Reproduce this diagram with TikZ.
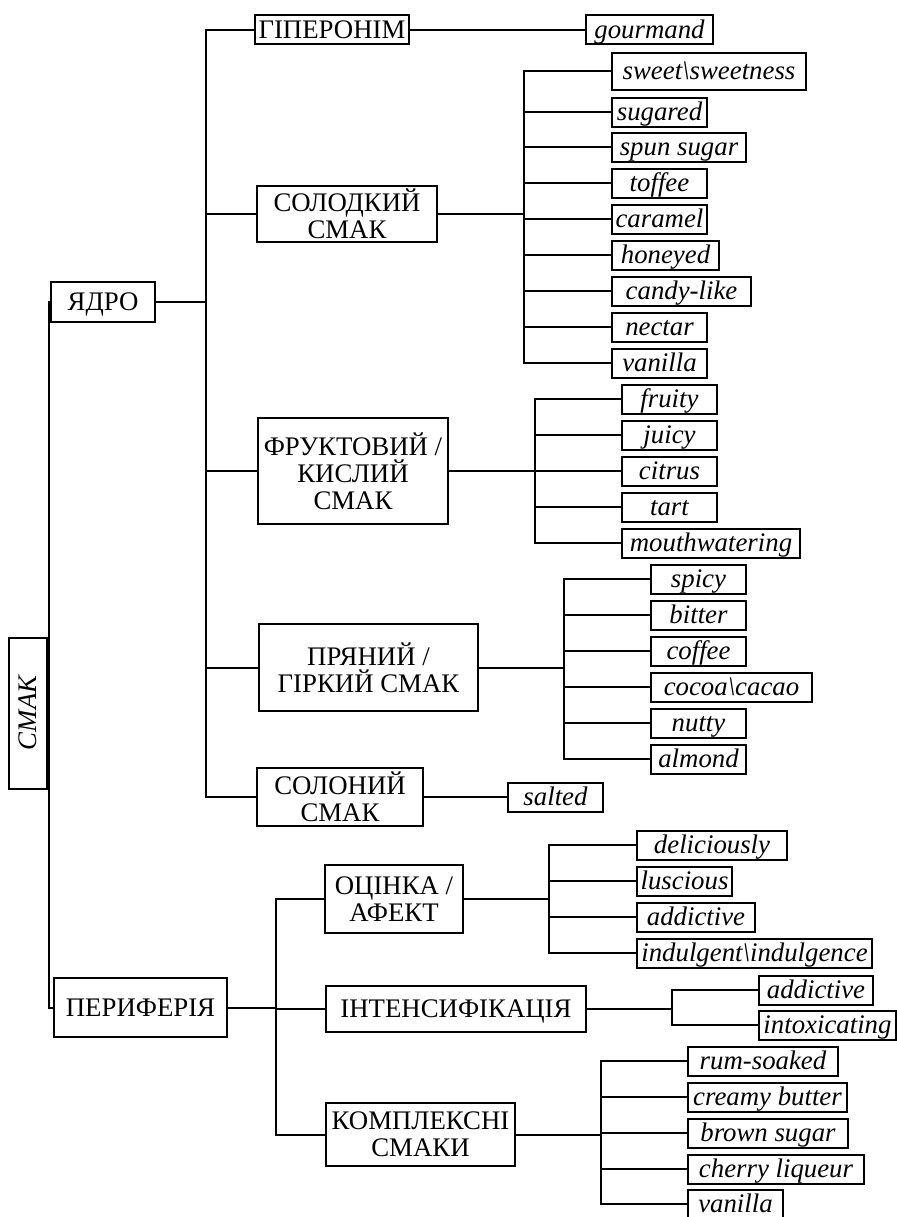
\documentclass[tikz,border=0pt]{standalone}
\usepackage{fontspec}
\setmainfont{Liberation Serif}

\begin{document}
\begin{tikzpicture}[x=0.5pt, y=-0.5pt, line width=1pt,
    every node/.style={font=\fontsize{13.4}{13.4}\selectfont, inner sep=0pt},
    catbox/.style={draw, align=center},
    oneline/.style={text height=10.6pt, text depth=2.1pt},
    leafbox/.style={draw, oneline, font=\fontsize{13.4}{13.4}\selectfont\itshape, minimum height=14.5pt, anchor=west},
    link/.style={line cap=rect}]
    \useasboundingbox (0,0) rectangle (896,1217);

    % Root and the two halves
    \node[catbox, oneline, rotate=90, font=\fontsize{13.4}{13.4}\selectfont\itshape, minimum width=75.5pt, minimum height=19pt] (smak) at (28,713) {СМАК};
    \node[catbox, oneline, minimum width=52pt, minimum height=20pt] (yadro) at (103,302) {ЯДРО};
    \node[catbox, oneline, minimum width=86.5pt, minimum height=29.5pt] (perif) at (140.5,1007.5) {ПЕРИФЕРІЯ};

    % Core groups
    \node[catbox, oneline, minimum width=77pt, minimum height=14.5pt] (giper) at (332,29.5) {ГІПЕРОНІМ};
    \node[catbox, minimum width=90pt, minimum height=28pt] (solod) at (347,214) {СОЛОДКИЙ\\СМАК};
    \node[catbox, minimum width=95pt, minimum height=53pt] (frukt) at (353,471) {ФРУКТОВИЙ /\\КИСЛИЙ\\СМАК};
    \node[catbox, minimum width=109.5pt, minimum height=43.5pt] (prian) at (368.5,667.5) {ПРЯНИЙ /\\ГІРКИЙ СМАК};
    \node[catbox, minimum width=83pt, minimum height=29pt] (solon) at (340,797) {СОЛОНИЙ\\СМАК};

    % Periphery groups
    \node[catbox, minimum width=69pt, minimum height=34pt] (ocinka) at (394,899) {ОЦІНКА /\\АФЕКТ};
    \node[catbox, oneline, minimum width=130pt, minimum height=23pt] (intens) at (456,1009) {ІНТЕНСИФІКАЦІЯ};
    \node[catbox, minimum width=94.5pt, minimum height=31.5pt] (kompl) at (420.5,1134.5) {КОМПЛЕКСНІ\\СМАКИ};

    % Leaves
    \node[leafbox, minimum width=63.5pt] (gourm) at (585,29.5) {gourmand};
    \node[leafbox, minimum width=97pt, minimum height=18.5pt] (sw1) at (611,71) {sweet\textbackslash sweetness};
    \foreach \n/\x/\y/\w/\t in {sw2/611/112/95/sugared, sw3/611/147/134/spun sugar,
        sw4/611/183/95/toffee, sw5/611/219/95/caramel, sw6/611/255/107/honeyed,
        sw7/611/291/139/candy-like, sw8/611/327/95/nectar, sw9/611/363/95/vanilla,
        fr1/621/399/95/fruity, fr2/621/435/95/juicy, fr3/621/471/95/citrus,
        fr4/621/507/95/tart, fr5/621/543/178/mouthwatering,
        sp1/650/579/95/spicy, sp2/650/615/95/bitter, sp3/650/651/95/coffee,
        sp4/650/687/161/{cocoa\textbackslash cacao}, sp5/650/723/95/nutty, sp6/650/759/95/almond,
        salt/507/797/95/salted,
        ev1/636/845/150/deliciously, ev2/636/881/95/luscious, ev3/636/917/118/addictive,
        ev4/636/953/235/{indulgent\textbackslash indulgence},
        in1/758/990/114/addictive, in2/758/1025/137/intoxicating,
        co1/687/1061/150/rum-soaked, co2/687/1097/159/creamy butter,
        co3/687/1133/160/brown sugar, co4/687/1169/176/cherry liqueur, co5/687/1204/95/vanilla}
        \node[leafbox, minimum width=\w*0.5pt] (\n) at (\x,\y) {\t};

    % Root bracket
    \coordinate (jroot) at (49,302);
    \draw[link] (yadro.west) -- (jroot) |- (perif.west);

    % Core trunk
    \coordinate (jcore) at (206,302);
    \draw[link] (yadro.east) -- (jcore);
    \draw[link] (jcore |- giper.west) -- (jcore |- solon.west);
    \foreach \n in {giper,solod,frukt,prian,solon}
        \draw[link] (jcore |- \n.west) -- (\n.west);

    \draw[link] (giper.east) -- (gourm.west);
    \draw[link] (solon.east) -- (salt.west);

    % Sweet
    \coordinate (jsweet) at (524,214);
    \draw[link] (solod.east) -- (jsweet);
    \draw[link] (jsweet |- sw1.west) -- (jsweet |- sw9.west);
    \foreach \n in {sw1,sw2,sw3,sw4,sw5,sw6,sw7,sw8,sw9}
        \draw[link] (jsweet |- \n.west) -- (\n.west);

    % Fruit
    \coordinate (jfruit) at (535,471);
    \draw[link] (frukt.east) -- (jfruit);
    \draw[link] (jfruit |- fr1.west) -- (jfruit |- fr5.west);
    \foreach \n in {fr1,fr2,fr3,fr4,fr5}
        \draw[link] (jfruit |- \n.west) -- (\n.west);

    % Spice
    \coordinate (jspice) at (564,667.5);
    \draw[link] (prian.east) -- (jspice);
    \draw[link] (jspice |- sp1.west) -- (jspice |- sp6.west);
    \foreach \n in {sp1,sp2,sp3,sp4,sp5,sp6}
        \draw[link] (jspice |- \n.west) -- (\n.west);

    % Periphery trunk
    \coordinate (jperif) at (276,1007.5);
    \draw[link] (perif.east) -- (jperif);
    \draw[link] (jperif |- ocinka.west) -- (jperif |- kompl.west);
    \foreach \n in {ocinka,intens,kompl}
        \draw[link] (jperif |- \n.west) -- (\n.west);

    % Evaluation
    \coordinate (jeval) at (549,899);
    \draw[link] (ocinka.east) -- (jeval);
    \draw[link] (jeval |- ev1.west) -- (jeval |- ev4.west);
    \foreach \n in {ev1,ev2,ev3,ev4}
        \draw[link] (jeval |- \n.west) -- (\n.west);

    % Intensification
    \coordinate (jint) at (672,1009);
    \draw[link] (intens.east) -- (jint);
    \draw[link] (jint |- in1.west) -- (jint |- in2.west);
    \foreach \n in {in1,in2}
        \draw[link] (jint |- \n.west) -- (\n.west);

    % Complex
    \coordinate (jcomp) at (601,1134.5);
    \draw[link] (kompl.east) -- (jcomp);
    \draw[link] (jcomp |- co1.west) -- (jcomp |- co5.west);
    \foreach \n in {co1,co2,co3,co4,co5}
        \draw[link] (jcomp |- \n.west) -- (\n.west);
\end{tikzpicture}
\end{document}
